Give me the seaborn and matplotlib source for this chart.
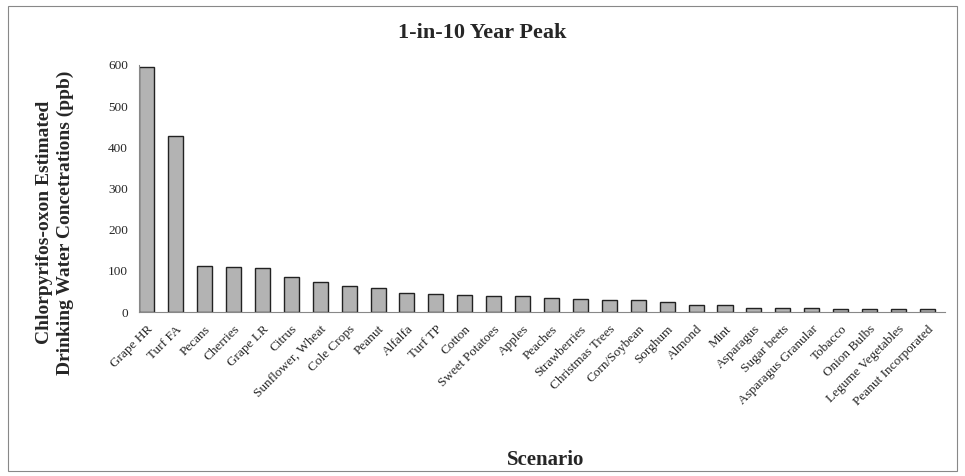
import pandas as pd
import seaborn as sns
import matplotlib.pyplot as plt
from matplotlib.patches import Rectangle

# data
scenarios = ["Grape HR", "Turf FA", "Pecans", "Cherries", "Grape LR", "Citrus",
             "Sunflower, Wheat", "Cole Crops", "Peanut", "Alfalfa", "Turf TP", "Cotton",
             "Sweet Potatoes", "Apples", "Peaches", "Strawberries", "Christmas Trees",
             "Corn/Soybean", "Sorghum", "Almond", "Mint", "Asparagus", "Sugar beets",
             "Asparagus Granular", "Tobacco", "Onion Bulbs", "Legume Vegetables",
             "Peanut Incorporated"]
peak_ppb = [595, 427, 111, 109, 106, 86, 74, 63, 58, 45, 43, 41,
            38, 38, 33, 32, 30, 30, 25, 17, 17, 10, 10,
            10, 7, 7, 7, 7]
y_ticks = [0, 100, 200, 300, 400, 500, 600]

df = pd.DataFrame({"Scenario": scenarios, "ppb": peak_ppb})

sns.set_style("white")
plt.rcParams["font.family"] = ["Liberation Serif", "DejaVu Serif"]

fig = plt.figure(figsize=(9.65, 4.76), dpi=100)
ax = fig.add_axes([0.144, 0.3445, 0.835, 0.519])

sns.barplot(data=df, x="Scenario", y="ppb", color="#b3b3b3", saturation=1,
            width=0.52, edgecolor="#222222", linewidth=1.0, ax=ax)

ax.set_ylim(0, 600)
ax.set_yticks(y_ticks)
ax.set_xlim(-0.27, len(scenarios) - 0.4)
ax.tick_params(axis="y", labelsize=9.5, length=4, color="#888888", pad=4)
ax.tick_params(axis="x", labelsize=9.5, length=0, pad=8)
for lbl in ax.get_xticklabels():
    lbl.set_rotation(45)
    lbl.set_ha("right")
    lbl.set_rotation_mode("anchor")

for side in ["top", "right"]:
    ax.spines[side].set_visible(False)
for side in ["left", "bottom"]:
    ax.spines[side].set_color("#888888")
    ax.spines[side].set_linewidth(0.8)

ax.set_xlabel("")
ax.set_ylabel("")
fig.text(0.057, 0.532, "Chlorpyrifos-oxon Estimated\nDrinking Water Concetrations (ppb)",
         rotation=90, ha="center", va="center", multialignment="center",
         fontsize=14, fontweight="bold", linespacing=1.25)
fig.text(0.565, 0.034, "Scenario", ha="center", va="center", fontsize=15, fontweight="bold")
fig.text(0.5, 0.931, "1-in-10 Year Peak", ha="center", va="center", fontsize=16, fontweight="bold")

# thin frame around the chart area
fig.patches.append(Rectangle((0.008, 0.01), 0.984, 0.978, transform=fig.transFigure,
                             fill=False, edgecolor="#888888", linewidth=0.8))

fig.savefig("out.png", dpi=100)
